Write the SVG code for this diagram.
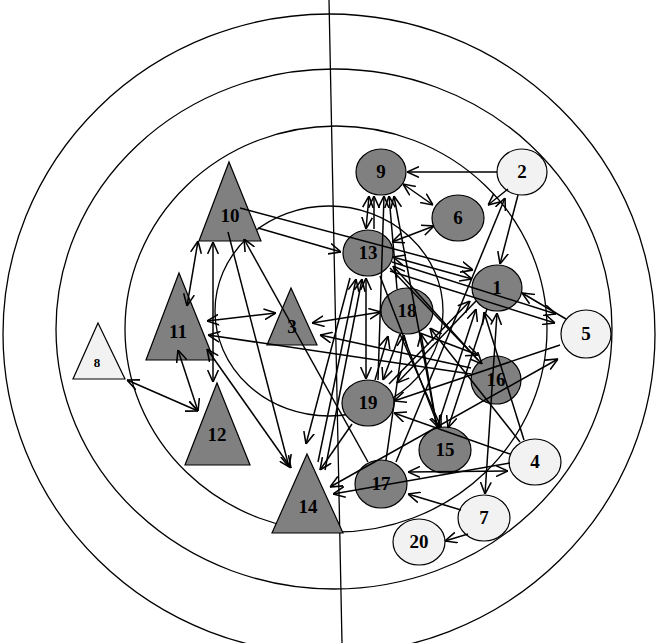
<svg xmlns="http://www.w3.org/2000/svg" width="657" height="643" viewBox="0 0 657 643">
<style>
.ring{fill:none;stroke:#000;stroke-width:1.3}
.dk{fill:#808080;stroke:#000;stroke-width:1.2}
.lt{fill:#f2f2f2;stroke:#000;stroke-width:1.2}
.lb{font-family:"Liberation Serif",serif;font-weight:bold;font-size:19px;text-anchor:middle;fill:#000}
.sm{font-size:13px}
#edges line{stroke:#000;stroke-width:1.5;fill:none}
.e{marker-end:url(#ah)}
.b{marker-start:url(#ah);marker-end:url(#ah)}
</style>
<defs>
<marker id="ah" viewBox="0 0 10 10" refX="10" refY="5" markerWidth="12" markerHeight="12" markerUnits="userSpaceOnUse" orient="auto-start-reverse">
<path d="M0,0.5 L10,5 L0,9.5" fill="none" stroke="#000" stroke-width="1.3"/>
</marker>
</defs>
<rect width="657" height="643" fill="#fff"/>
<g id="rings">
<ellipse class="ring" cx="329" cy="334" rx="326" ry="320"/>
<ellipse class="ring" cx="334" cy="329" rx="278" ry="260"/>
<ellipse class="ring" cx="336" cy="329" rx="211" ry="203"/>
<ellipse class="ring" cx="329" cy="311" rx="114" ry="105"/>
<line x1="329" y1="0" x2="342" y2="643" stroke="#000" stroke-width="1.3"/>
</g>
<g id="n10"><polygon class="dk" points="229,162 261,241 199,241"/><text class="lb" x="230" y="222">10</text></g>
<g id="n11"><polygon class="dk" points="179,273 214,360 146,360"/><text class="lb" x="178" y="338">11</text></g>
<g id="n8"><polygon class="lt" points="98,323 125,379 73,379"/><text class="lb sm" x="97" y="367">8</text></g>
<g id="n12"><polygon class="dk" points="217,383 250,465 185,465"/><text class="lb" x="217" y="441">12</text></g>
<g id="n3"><polygon class="dk" points="291,288 317,345 267,345"/><text class="lb" x="292" y="333">3</text></g>
<g id="n14"><polygon class="dk" points="307,454 343,533 272,533"/><text class="lb" x="308" y="513">14</text></g>
<g id="n9"><ellipse class="dk" cx="381" cy="172" rx="25" ry="23"/><text class="lb" x="381" y="178">9</text></g>
<g id="n2"><ellipse class="lt" cx="522" cy="172" rx="25" ry="23"/><text class="lb" x="522" y="178">2</text></g>
<g id="n6"><ellipse class="dk" cx="458" cy="218" rx="26" ry="23"/><text class="lb" x="458" y="224">6</text></g>
<g id="n13"><ellipse class="dk" cx="368" cy="253" rx="25" ry="23"/><text class="lb" x="368" y="259">13</text></g>
<g id="n1"><ellipse class="dk" cx="497" cy="288" rx="25" ry="23"/><text class="lb" x="497" y="294">1</text></g>
<g id="n18"><ellipse class="dk" cx="407" cy="311" rx="26" ry="23"/><text class="lb" x="407" y="317">18</text></g>
<g id="n5"><ellipse class="lt" cx="586" cy="334" rx="25" ry="24"/><text class="lb" x="586" y="340">5</text></g>
<g id="n16"><ellipse class="dk" cx="496" cy="380" rx="25" ry="24"/><text class="lb" x="496" y="386">16</text></g>
<g id="n19"><ellipse class="dk" cx="368" cy="403" rx="26" ry="23"/><text class="lb" x="368" y="409">19</text></g>
<g id="n15"><ellipse class="dk" cx="445" cy="450" rx="26" ry="23"/><text class="lb" x="445" y="456">15</text></g>
<g id="n4"><ellipse class="lt" cx="535" cy="462" rx="26" ry="23"/><text class="lb" x="535" y="468">4</text></g>
<g id="n17"><ellipse class="dk" cx="381" cy="484" rx="26" ry="24"/><text class="lb" x="381" y="490">17</text></g>
<g id="n7"><ellipse class="lt" cx="484" cy="518" rx="26" ry="23"/><text class="lb" x="484" y="524">7</text></g>
<g id="n20"><ellipse class="lt" cx="419" cy="542" rx="26" ry="23"/><text class="lb" x="419" y="548">20</text></g>
<g id="edges">
<line class="b" x1="198" y1="241" x2="187" y2="306"/>
<line class="b" x1="213" y1="242" x2="213" y2="382"/>
<line class="e" x1="228" y1="232" x2="289" y2="467"/>
<line class="e" x1="368" y1="462" x2="244" y2="239"/>
<line class="e" x1="258" y1="228" x2="341" y2="252"/>
<line class="e" x1="240" y1="208" x2="473" y2="270"/>
<line class="b" x1="207" y1="321" x2="276" y2="313"/>
<line class="b" x1="178" y1="350" x2="198" y2="411"/>
<line class="b" x1="127" y1="380" x2="198" y2="411"/>
<line class="e" x1="471" y1="374" x2="208" y2="335"/>
<line class="b" x1="291" y1="468" x2="207" y2="349"/>
<line class="b" x1="312" y1="323" x2="381" y2="312"/>
<line class="e" x1="471" y1="368" x2="320" y2="335"/>
<line class="e" x1="497" y1="172" x2="407" y2="172"/>
<line class="e" x1="508" y1="189" x2="488" y2="205"/>
<line class="e" x1="518" y1="195" x2="500" y2="264"/>
<line class="e" x1="396" y1="462" x2="505" y2="198"/>
<line class="b" x1="403" y1="184" x2="433" y2="205"/>
<line class="b" x1="392" y1="242" x2="434" y2="226"/>
<line class="b" x1="369" y1="196" x2="366" y2="229"/>
<line class="e" x1="374" y1="229" x2="374" y2="196"/>
<line class="b" x1="366" y1="278" x2="366" y2="379"/>
<line class="e" x1="378" y1="380" x2="384" y2="196"/>
<line class="e" x1="397" y1="289" x2="389" y2="196"/>
<line class="e" x1="437" y1="428" x2="394" y2="196"/>
<line class="e" x1="350" y1="278" x2="306" y2="444"/>
<line class="e" x1="318" y1="462" x2="356" y2="279"/>
<line class="e" x1="325" y1="470" x2="362" y2="279"/>
<line class="b" x1="393" y1="257" x2="472" y2="279"/>
<line class="e" x1="566" y1="319" x2="522" y2="293"/>
<line class="e" x1="392" y1="262" x2="556" y2="314"/>
<line class="e" x1="390" y1="271" x2="555" y2="323"/>
<line class="b" x1="330" y1="487" x2="558" y2="359"/>
<line class="e" x1="560" y1="345" x2="394" y2="401"/>
<line class="b" x1="497" y1="313" x2="485" y2="494"/>
<line class="b" x1="408" y1="472" x2="508" y2="471"/>
<line class="e" x1="510" y1="463" x2="333" y2="494"/>
<line class="e" x1="461" y1="510" x2="408" y2="494"/>
<line class="e" x1="468" y1="534" x2="445" y2="541"/>
<line class="e" x1="389" y1="384" x2="470" y2="301"/>
<line class="e" x1="437" y1="428" x2="476" y2="309"/>
<line class="e" x1="524" y1="440" x2="484" y2="312"/>
<line class="e" x1="400" y1="334" x2="441" y2="427"/>
<line class="e" x1="380" y1="276" x2="439" y2="428"/>
<line class="e" x1="487" y1="309" x2="448" y2="428"/>
<line class="e" x1="520" y1="442" x2="430" y2="328"/>
<line class="e" x1="390" y1="268" x2="482" y2="364"/>
<line class="e" x1="510" y1="454" x2="394" y2="413"/>
<line class="e" x1="375" y1="380" x2="388" y2="336"/>
<line class="e" x1="386" y1="460" x2="404" y2="335"/>
<line class="e" x1="437" y1="428" x2="421" y2="334"/>
<line class="e" x1="400" y1="334" x2="383" y2="380"/>
<line class="e" x1="476" y1="301" x2="397" y2="383"/>
<line class="e" x1="352" y1="424" x2="320" y2="470"/>
<line class="e" x1="478" y1="360" x2="393" y2="266"/>
<line class="e" x1="420" y1="333" x2="478" y2="355"/>
</g>
</svg>
